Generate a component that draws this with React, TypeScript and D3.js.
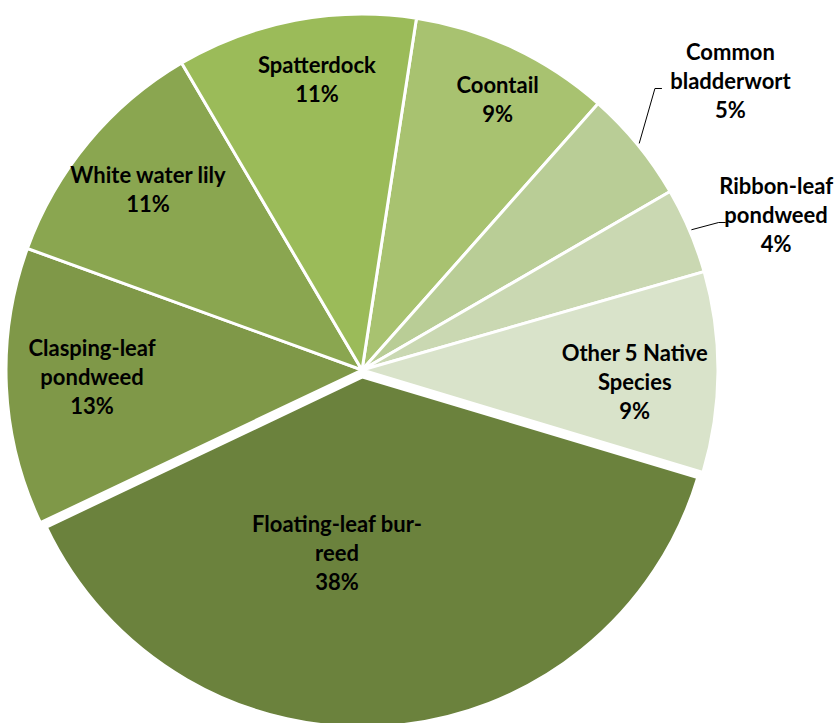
import React from "react";
import * as d3 from "d3";

// ---- data ----
const categories = [
  "Coontail",
  "Common bladderwort",
  "Ribbon-leaf pondweed",
  "Other 5 Native Species",
  "Floating-leaf bur-reed",
  "Clasping-leaf pondweed",
  "White water lily",
  "Spatterdock",
];
const values = [9.1, 5.1, 3.9, 9.1, 38.3, 12.6, 11.0, 10.9];
const labelLines = [
  ["Coontail"],
  ["Common", "bladderwort"],
  ["Ribbon-leaf", "pondweed"],
  ["Other 5 Native", "Species"],
  ["Floating-leaf bur-", "reed"],
  ["Clasping-leaf", "pondweed"],
  ["White water lily"],
  ["Spatterdock"],
];
const colors = [
  "#A8C270",
  "#B9CD96",
  "#CAD8B2",
  "#D9E3CA",
  "#6B823D",
  "#7F9848",
  "#8AA650",
  "#9BBB59",
];

// ---- layout ----
const W = 838;
const H = 723;
const CX = 362;
const CY = 370;
const R = 356;
const START_DEG = 8.8;
const EXPLODED = 4; // index of exploded slice
const EXPLODE_DIST = 7;
const EXPLODED_R = 350;
// label placement: radial distance and angular nudge (deg) from slice mid-angle
const labelR = [303, 468, 442, 273, 185, 270, 280, 294];
const labelDa = [1.4, 1.2, 2.6, 2.1, 12.1, 1.2, 0.4, 2.0];
const outsideLabels = [1, 2];
const LINE_H = 29;
const FONT = 22;

const rad = (d: number) => (d * Math.PI) / 180;
const polar = (a: number, r: number): [number, number] => [
  CX + r * Math.sin(a),
  CY - r * Math.cos(a),
];

export default function App() {
  const total = d3.sum(values);
  const pie = d3
    .pie<number>()
    .sort(null)
    .value((d) => d)
    .startAngle(rad(START_DEG))
    .endAngle(rad(START_DEG) + 2 * Math.PI);
  const arcs = pie(values);
  const arcGen = d3.arc<d3.PieArcDatum<number>>().innerRadius(0);

  return (
    <svg
      width={W}
      height={H}
      style={{ position: "absolute", left: 0, top: 0, background: "#fff" }}
      fontFamily="Lato, 'Open Sans', sans-serif"
    >
      <g>
        {arcs.map((a, i) => {
          const mid = (a.startAngle + a.endAngle) / 2;
          const off = i === EXPLODED ? EXPLODE_DIST : 0;
          const tx = CX + off * Math.sin(mid);
          const ty = CY - off * Math.cos(mid);
          const r = i === EXPLODED ? EXPLODED_R : R;
          return (
            <path
              key={categories[i]}
              d={arcGen.outerRadius(r)(a) || ""}
              transform={`translate(${tx},${ty})`}
              fill={colors[i]}
              stroke="#fff"
              strokeWidth={3}
              strokeLinejoin="miter"
            />
          );
        })}
      </g>
      <g>
        {arcs.map((a, i) => {
          const mid = (a.startAngle + a.endAngle) / 2;
          const la = mid + rad(labelDa[i]);
          const [lx, ly] = polar(la, labelR[i]);
          const lines = [...labelLines[i], `${Math.round((values[i] / total) * 100)}%`];
          const firstY = ly - ((lines.length - 1) * LINE_H) / 2;
          let leader = null;
          if (outsideLabels.includes(i)) {
            const [sx, sy] = polar(mid, R + 2);
            const midLine = lines[1];
            const halfW = (midLine.length * FONT * 0.55) / 2;
            const ex = lx - halfW - 2;
            const ey = firstY + LINE_H + 7;
            leader = (
              <polyline
                points={`${sx},${sy} ${ex - 7},${ey} ${ex},${ey}`}
                fill="none"
                stroke="#000"
                strokeWidth={1}
              />
            );
          }
          return (
            <g key={categories[i]}>
              {leader}
              <text
                textAnchor="middle"
                fontSize={FONT}
                fontWeight="bold"
                fill="#000"
              >
                {lines.map((t, k) => (
                  <tspan key={k} x={lx} y={firstY + k * LINE_H + 8}>
                    {t}
                  </tspan>
                ))}
              </text>
            </g>
          );
        })}
      </g>
    </svg>
  );
}
